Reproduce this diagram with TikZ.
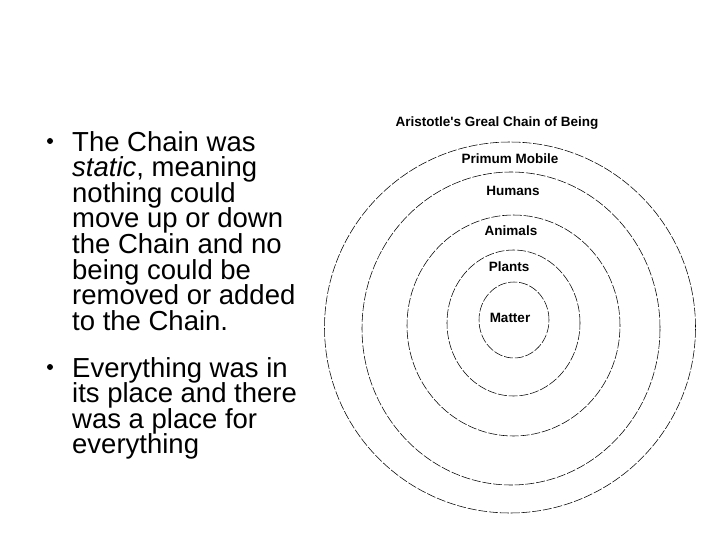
\documentclass[tikz,border=0pt]{standalone}
\usepackage{fontspec}
\setmainfont{Liberation Sans}
\usepackage{xcolor}

\begin{document}
\begin{tikzpicture}[x=1pt,y=-1pt,
  ring/.style={line width=0.55pt,dash pattern=on 9pt off 1.8pt},
  lab/.style={font=\bfseries\fontsize{13.5}{15}\selectfont,inner sep=0pt},
  line/.style={font={\fontsize{27.5}{25.6}\selectfont\lineskiplimit=-100pt},anchor=north west,align=left,inner sep=0pt},
  dot/.style={circle,fill,inner sep=0pt,minimum size=6pt}]
  \useasboundingbox (0,0) rectangle (720,540);
  % left bullet text
  \node[dot] (b1) at (50,141) {};
  \node[line] (t1) at (72,131) {The Chain was\\\textit{static}, meaning\\nothing could\\move up or down\\the Chain and no\\being could be\\removed or added\\to the Chain.};
  \node[dot] (b2) at (50,367) {};
  \node[line] (t2) at (72,357) {Everything was in\\its place and there\\was a place for\\everything};
  % rings of the chain, outer to inner
  \draw[ring] (510,327.5) ellipse [x radius=185.5pt,y radius=185.5pt];
  \draw[ring] (511,328.5) ellipse [x radius=149pt,y radius=156.5pt];
  \draw[ring] (513.5,325.5) ellipse [x radius=106.5pt,y radius=110.5pt];
  \draw[ring] (513.5,323) ellipse [x radius=66.5pt,y radius=73pt];
  \draw[ring] (514,320) ellipse [x radius=35pt,y radius=38pt];
  % labels
  \node[lab] (title) at (497,123) {Aristotle\textquotesingle s Greal Chain of Being};
  \node[lab] (primum) at (510,159) {Primum Mobile};
  \node[lab] (humans) at (513,191) {Humans};
  \node[lab] (animals) at (511,231) {Animals};
  \node[lab] (plants) at (509,267) {Plants};
  \node[lab] (matter) at (510,318) {Matter};
\end{tikzpicture}
\end{document}
